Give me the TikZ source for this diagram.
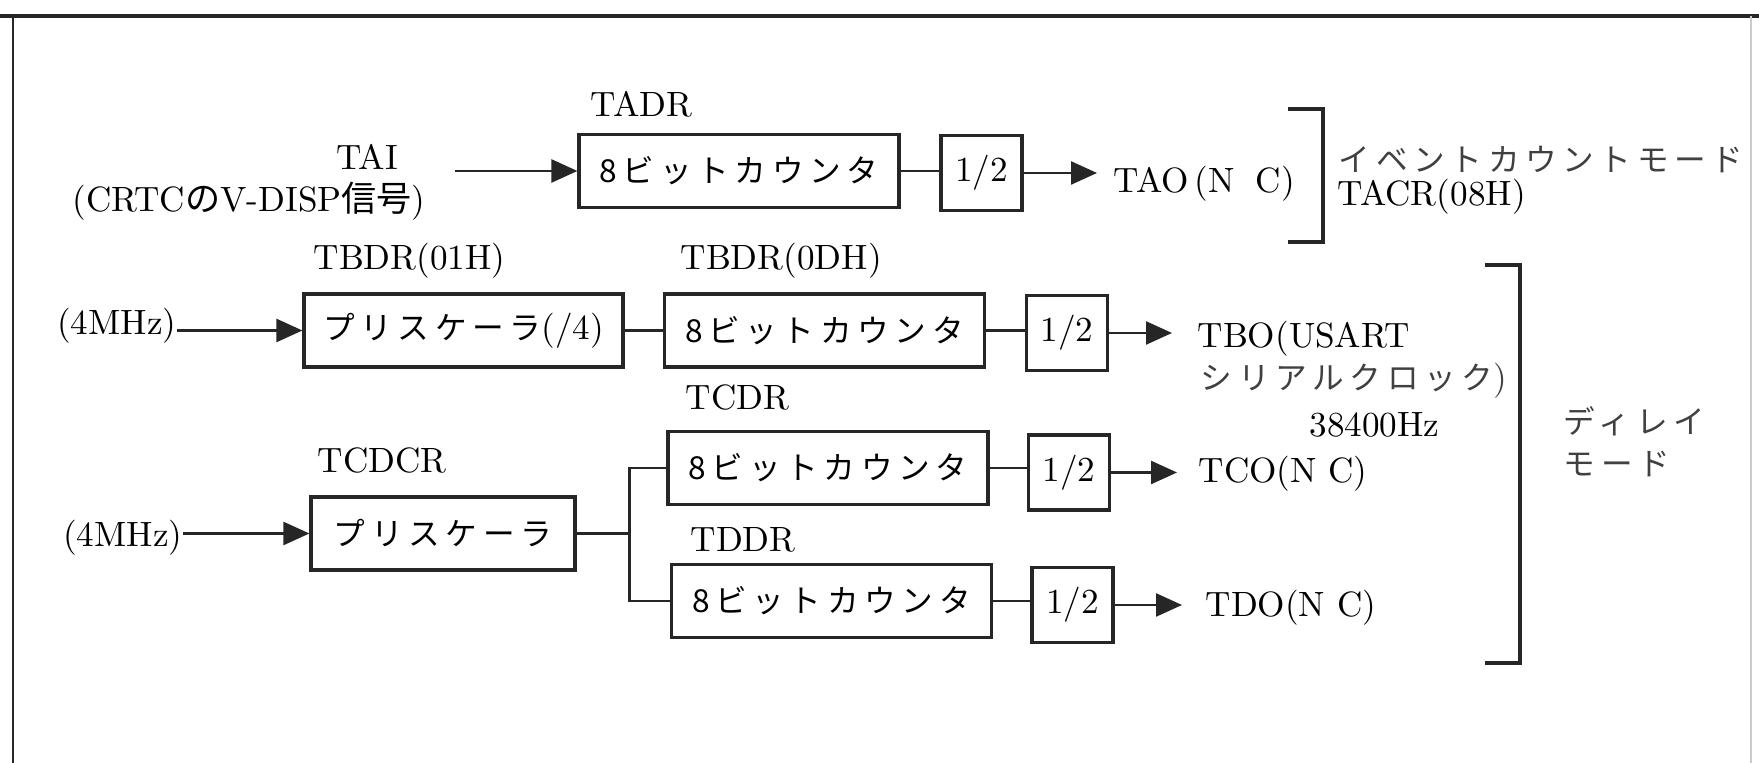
\documentclass[tikz,border=0pt]{standalone}
\usepackage{fontspec}
\newfontfamily\jp[LetterSpace=18]{Noto Sans CJK JP}
\newfontfamily\jpn{Noto Sans CJK JP}
\usetikzlibrary{arrows.meta,positioning}
\tikzset {
  >={Triangle[length=2.6mm,width=2.3mm]},
  every node/.style={font=\normalsize},
}

\begin{document}
\begin{tikzpicture}[
    box/.style={draw=black!85,line width=0.9pt,minimum height=0.73cm,inner sep=0pt},
    cnt/.style={box,minimum width=3.2cm},
    half/.style={box,minimum width=0.81cm,minimum height=0.75cm},
    lbl/.style={inner sep=0pt},
    kana/.style={inner sep=0pt,text=black!75,font=\jp\fontsize{9}{11}\selectfont},
    wire/.style={draw=black!85,line width=0.7pt},
    brk/.style={draw=black!85,line width=0.9pt},
  ]
  \useasboundingbox (0,0) rectangle (17.59,7.63);
  % frame
  \draw[black!85,line width=1.3pt] (0,7.47) -- (17.59,7.47);
  \draw[black!85,line width=0.8pt] (0.13,7.47) -- (0.13,0);
  \draw[black!20,line width=0.5pt] (17.51,7.47) -- (17.51,0);

  % timer A: event count mode
  \node[lbl,anchor=base] (tai) at (3.67,5.93) {TAI};
  \node[lbl,anchor=base] (crtc) at (2.49,5.51) {(CRTC{\jpn の}V-DISP{\jpn 信号})};
  \node[cnt,kana,text=black] (cntA) at (7.39,5.92) {8ビットカウンタ};
  \node[lbl,anchor=base west] (tadr) at (5.90,6.46) {TADR};
  \node[half] (halfA) at (9.815,5.90) {1/2};
  \node[lbl,anchor=base west] (tao) at (11.13,5.70) {TAO\,(N\hspace{0.6em}C)};
  \coordinate (aIn) at (4.55,5.92);
  \draw[wire,->] (aIn) -- (cntA.west);
  \draw[wire] (cntA.east) -- (cntA.east -| halfA.west);
  \draw[wire,->] (halfA.east) -- ([xshift=-1.6mm]halfA.east -| tao.west);
  \draw[brk] (12.88,6.54) -- (13.23,6.54) -- (13.23,5.21) -- (12.88,5.21);
  \node[kana,anchor=west] (evt) at (13.38,6.03) {イベントカウントモード};
  \node[lbl,anchor=base west] (tacr) at (13.37,5.57) {TACR(08H)};

  % timer B
  \node[lbl,anchor=base east] (inB) at (1.77,4.28) {(4MHz)};
  \node[box,kana,text=black,minimum width=3.19cm] (preB) at (4.635,4.325) {プリスケーラ{\rmfamily\fontsize{10}{12}\selectfont(/4)}};
  \node[lbl,anchor=base west] (tbdrA) at (3.13,4.93) {TBDR(01H)};
  \node[cnt,kana,text=black] (cntB) at (8.245,4.325) {8ビットカウンタ};
  \node[lbl,anchor=base west] (tbdrB) at (6.80,4.93) {TBDR(0DH)};
  \node[half] (halfB) at (10.67,4.30) {1/2};
  \node[lbl,anchor=base west] (tbo) at (11.97,4.15) {TBO(USART};
  \node[kana,anchor=west] (serial) at (12.00,3.82) {シリアルクロック{\rmfamily\fontsize{10}{12}\selectfont)}};
  \node[lbl,anchor=base] (baud) at (13.745,3.26) {38400Hz};
  \draw[wire,->] (inB.east |- preB.west) -- (preB.west);
  \draw[wire] (preB.east) -- (cntB.west);
  \draw[wire] (cntB.east) -- (cntB.east -| halfB.west);
  \draw[wire,->] (halfB.east) -- ([xshift=-2.5mm]halfB.east -| tbo.west);

  % timers C and D
  \node[lbl,anchor=base east] (inC) at (1.83,2.16) {(4MHz)};
  \node[box,kana,text=black,minimum width=2.64cm] (preC) at (4.43,2.295) {プリスケーラ};
  \node[lbl,anchor=base west] (tcdcr) at (3.17,2.90) {TCDCR};
  \node[cnt,kana,text=black] (cntC) at (8.28,2.95) {8ビットカウンタ};
  \node[lbl,anchor=base west] (tcdr) at (6.85,3.53) {TCDR};
  \node[cnt,kana,text=black] (cntD) at (8.315,1.62) {8ビットカウンタ};
  \node[lbl,anchor=base west] (tddr) at (6.90,2.11) {TDDR};
  \node[half] (halfC) at (10.69,2.905) {1/2};
  \node[half] (halfD) at (10.725,1.58) {1/2};
  \node[lbl,anchor=base west] (tco) at (11.98,2.80) {TCO(N C)};
  \node[lbl,anchor=base west] (tdo) at (12.05,1.46) {TDO(N C)};
  \draw[wire,->] (inC.east |- preC.west) -- (preC.west);
  \draw[wire] (preC.east) -- ++(0.53,0) coordinate (fork) |- (cntC.west);
  \draw[wire] (fork) |- (cntD.west);
  \draw[wire] (cntC.east) -- (cntC.east -| halfC.west);
  \draw[wire] (cntD.east) -- (cntD.east -| halfD.west);
  \draw[wire,->] (halfC.east) -- ([xshift=-2.1mm]halfC.east -| tco.west);
  \draw[wire,->] (halfD.east) -- ([xshift=-2.3mm]halfD.east -| tdo.west);

  % delay mode bracket
  \draw[brk] (14.85,4.98) -- (15.20,4.98) -- (15.20,1.00) -- (14.85,1.00);
  \node[kana,anchor=west] (dly) at (15.63,3.42) {ディレイ};
  \node[kana,anchor=west] (mode) at (15.63,2.99) {モード};
\end{tikzpicture}
\end{document}
